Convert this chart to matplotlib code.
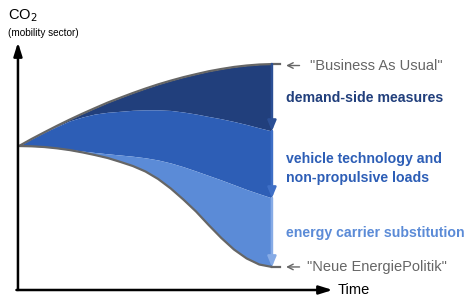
import matplotlib.pyplot as plt

# === DATA ===
time = [0, 0.5, 1, 1.5, 2, 2.5, 3, 3.5, 4, 4.5, 5,
        5.5, 6, 6.5, 7, 7.5, 8, 8.5, 9, 9.5, 10]
bau = [100, 104.9, 109.5, 114.0, 118.3, 122.4, 126.3, 130.1, 133.5, 136.8, 139.9,
       142.8, 145.4, 147.8, 149.9, 151.9, 153.5, 154.9, 155.9, 156.6, 156.9]
after_demand = [100, 104.9, 109.4, 113.5, 117.4, 120.1, 122.2, 123.4, 124.1, 124.8, 125.1,
                125.1, 124.7, 123.6, 122.2, 120.5, 118.9, 117.0, 114.9, 112.6, 110.4]
after_vehicle = [100, 99.8, 99.3, 98.5, 97.6, 96.5, 95.5, 94.6, 93.75, 92.9, 91.8,
                 90.3, 88.2, 85.6, 82.6, 79.5, 76.4, 73.1, 69.8, 66.8, 63.9]
nep = [100, 99.8, 99.3, 98.4, 97.2, 95.6, 93.75, 91.7, 89.0, 86.1, 82.3,
       77.1, 70.5, 62.8, 54.5, 45.1, 36.1, 28.1, 21.9, 17.7, 16.0]

band_labels = ["demand-side measures",
               "vehicle technology and\nnon-propulsive loads",
               "energy carrier substitution"]
band_label_y = [133.3, 84.4, 39.6]

DARK = "#213f7c"
MID = "#2d5eb6"
LIGHT = "#5b8bd7"
ARROW_COLS = ["#2b4f95", "#3e6fc6", "#86abe6"]
GREY = "#666666"

plt.rcParams['font.family'] = ['Liberation Sans', 'DejaVu Sans']

fig = plt.figure(figsize=(4.68, 2.96), dpi=100)
ax = fig.add_axes([0, 0, 1, 1])
ax.set_xlim(-0.75, 17.75)
ax.set_ylim(-4.17, 201.4)
ax.axis('off')

# === BANDS ===
ax.fill_between(time, after_demand, bau, color=DARK, lw=0)
ax.fill_between(time, after_vehicle, after_demand, color=MID, lw=0)
ax.fill_between(time, nep, after_vehicle, color=LIGHT, lw=0)
ax.plot(time, bau, color=GREY, lw=1.6, solid_capstyle='round', solid_joinstyle='round')
ax.plot(time, nep, color=GREY, lw=1.6, solid_capstyle='round', solid_joinstyle='round')
ax.plot([time[-1], time[-1] + 0.3], [bau[-1]] * 2, color=GREY, lw=1.6)
ax.plot([time[-1], time[-1] + 0.3], [nep[-1]] * 2, color=GREY, lw=1.6)

# === VERTICAL REDUCTION ARROWS ===
levels = [bau[-1], after_demand[-1], after_vehicle[-1], nep[-1]]
for i in range(3):
    ax.annotate("", xy=(time[-1], levels[i + 1]), xytext=(time[-1], levels[i]),
                arrowprops=dict(arrowstyle='-|>,head_length=0.6,head_width=0.25',
                                color=ARROW_COLS[i], lw=1.8, shrinkA=0, shrinkB=0))

# === LABELS ===
for lab, y, c in zip(band_labels, band_label_y, [DARK, MID, LIGHT]):
    ax.text(10.55, y, lab, color=c, fontsize=10.2, fontweight='bold',
            va='center', ha='left', linespacing=1.47)

ax.annotate("", xy=(10.45, bau[-1] - 1), xytext=(11.2, bau[-1] - 1),
            arrowprops=dict(arrowstyle='->', color=GREY, lw=1))
ax.text(11.5, bau[-1] - 1, '"Business As Usual"', color=GREY, fontsize=10.5,
        va='center', ha='left')
ax.annotate("", xy=(10.45, nep[-1]), xytext=(11.2, nep[-1]),
            arrowprops=dict(arrowstyle='->', color=GREY, lw=1))
ax.text(11.38, nep[-1], '"Neue EnergiePolitik"', color=GREY, fontsize=10.5,
        va='center', ha='left')

# === AXES ===
ax.annotate("", xy=(-0.04, 172), xytext=(-0.04, 0),
            arrowprops=dict(arrowstyle='-|>,head_length=0.8,head_width=0.25',
                            color='black', lw=1.8, shrinkA=0, shrinkB=0))
ax.annotate("", xy=(12.4, 0), xytext=(-0.1, 0),
            arrowprops=dict(arrowstyle='-|>,head_length=0.8,head_width=0.25',
                            color='black', lw=1.8, shrinkA=0, shrinkB=0))
ax.text(12.6, 0.3, "Time", fontsize=10.5, va='center', ha='left')
fig.text(8 / 468, 1 - 16 / 296, r"CO$_2$", fontsize=10.5, va='center', ha='left')
fig.text(8 / 468, 1 - 33 / 296, "(mobility sector)", fontsize=7.2, va='center', ha='left')

fig.savefig("out.png", dpi=100)
